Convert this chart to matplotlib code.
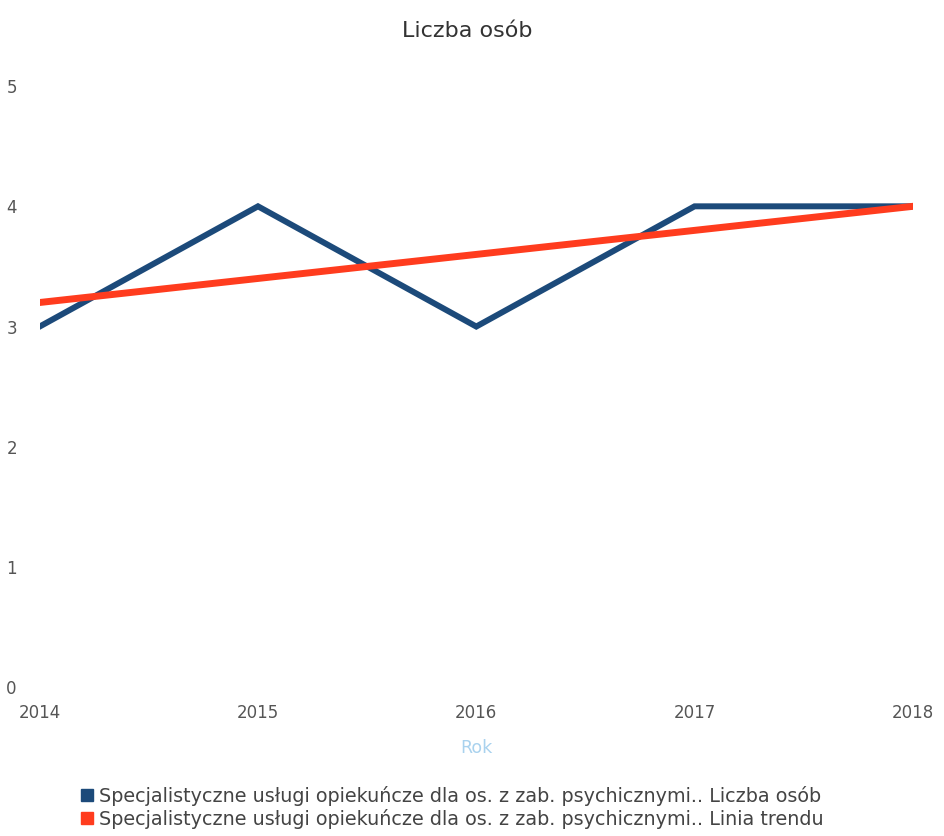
import matplotlib.pyplot as plt
from matplotlib.lines import Line2D

plt.rcParams['font.family'] = ['DejaVu Sans']

years = [2014, 2015, 2016, 2017, 2018]
liczba_osob = [3, 4, 3, 4, 4]
linia_trendu = [3.2, 3.4, 3.6, 3.8, 4.0]
y_ticks = [0, 1, 2, 3, 4, 5]
series_names = ['Specjalistyczne usługi opiekuńcze dla os. z zab. psychicznymi.. Liczba osób',
                'Specjalistyczne usługi opiekuńcze dla os. z zab. psychicznymi.. Linia trendu']

blue = '#1c4a7a'
red = '#ff3c1e'
grey = '#555555'

fig = plt.figure(figsize=(9.45, 8.36), dpi=100)
ax = fig.add_axes([0.042, 0.178, 0.924, 0.719])

ax.plot(years, liczba_osob, color=blue, lw=4.3, solid_joinstyle='miter', zorder=2)
ax.plot(years, linia_trendu, color=red, lw=5, zorder=3)

ax.set_xlim(2014, 2018)
ax.set_ylim(0, 5)
ax.set_xticks(years)
ax.set_yticks(y_ticks)
ax.tick_params(length=0, colors=grey, labelsize=12)
ax.tick_params(axis='x', pad=12)
ax.tick_params(axis='y', pad=24)
for lab in ax.get_yticklabels():
    lab.set_horizontalalignment('left')
for s in ax.spines.values():
    s.set_visible(False)

ax.set_xlabel('Rok', color='#a9d2ee', fontsize=12.5, labelpad=12)
fig.suptitle('Liczba osób', x=0.494, y=0.975, fontsize=16, color='#333333')

handles = [Line2D([], [], marker='s', ls='', color=c, markersize=8) for c in (blue, red)]
fig.legend(handles, series_names, loc='lower left', bbox_to_anchor=(0.068, -0.012),
           frameon=False, fontsize=13.8, handlelength=0.6, handletextpad=0.3,
           labelspacing=0.15, labelcolor='#444444')

plt.savefig('out.png', dpi=100)
